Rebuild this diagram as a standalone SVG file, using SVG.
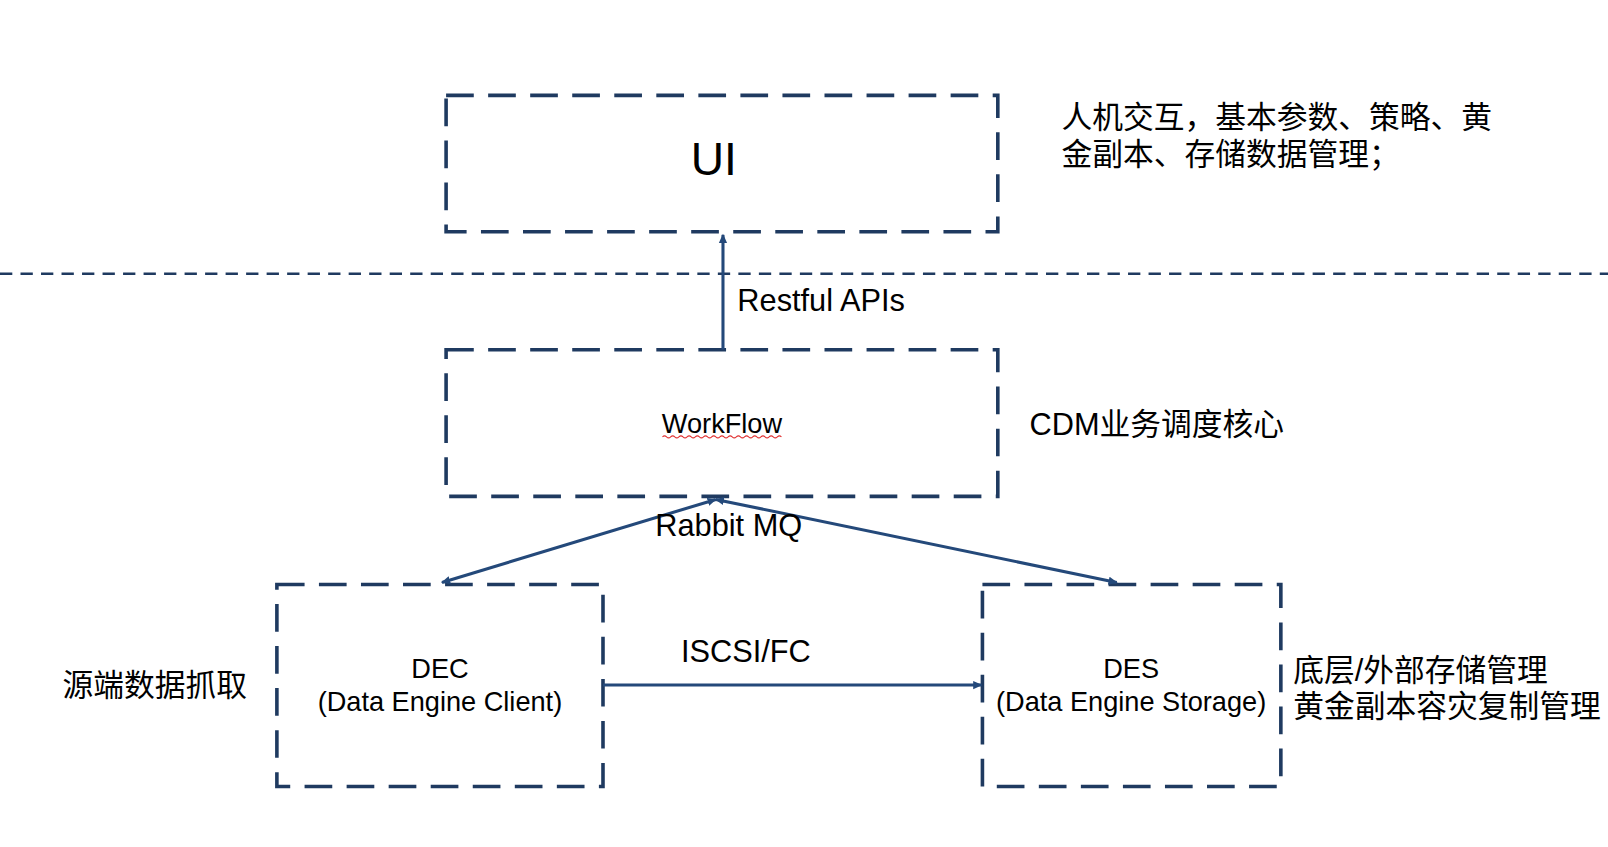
<svg xmlns="http://www.w3.org/2000/svg" width="1608" height="847" viewBox="0 0 1608 847">
<style>
.box{fill:none;stroke:#1f3a60;stroke-width:3.5;stroke-dasharray:27 14}
.ln{stroke:#24497a;stroke-width:3;fill:none}
text{font-family:"Liberation Sans","Noto Sans CJK SC",sans-serif;fill:#000}
</style>
<defs>
<marker id="ah" markerWidth="10" markerHeight="10" refX="8" refY="5" orient="auto-start-reverse" markerUnits="userSpaceOnUse"><path d="M0,1 L9,5 L0,9 Z" fill="#24497a"/></marker>
</defs>
<rect width="1608" height="847" fill="#fff"/>
<g transform="scale(1.0255)">
<line x1="0" y1="267" x2="1570" y2="267" stroke="#1f3a60" stroke-width="2.5" stroke-dasharray="12 8"/>
<g id="ui"><rect class="box" x="435" y="93" width="538" height="133"/><text x="696" y="171" font-size="45" text-anchor="middle">UI</text></g>
<g id="workflow"><rect class="box" x="435" y="341" width="538" height="143"/><text x="704" y="422" font-size="26.5" text-anchor="middle">WorkFlow</text>
<path d="M646,426 q2,-2 4,0 t4,0 t4,0 t4,0 t4,0 t4,0 t4,0 t4,0 t4,0 t4,0 t4,0 t4,0 t4,0 t4,0 t4,0 t4,0 t4,0 t4,0 t4,0 t4,0 t4,0 t4,0 t4,0 t4,0 t4,0 t4,0 t4,0 t4,0 t4,0" stroke="#e03030" stroke-width="1" fill="none"/></g>
<g id="dec"><rect class="box" x="270" y="570" width="318" height="197"/><text x="429" y="661" font-size="26.5" text-anchor="middle">DEC</text><text x="429" y="693" font-size="26.5" text-anchor="middle">(Data Engine Client)</text></g>
<g id="des"><rect class="box" x="958" y="570" width="291" height="197"/><text x="1103" y="661" font-size="26.5" text-anchor="middle">DES</text><text x="1103" y="693" font-size="26.5" text-anchor="middle">(Data Engine Storage)</text></g>
<g id="connectors">
<line class="ln" x1="705" y1="341" x2="705" y2="229" marker-end="url(#ah)"/>
<line class="ln" x1="698" y1="487" x2="431" y2="568" marker-start="url(#ah)" marker-end="url(#ah)"/>
<line class="ln" x1="698" y1="487" x2="1089" y2="568" marker-start="url(#ah)" marker-end="url(#ah)"/>
<line class="ln" x1="588" y1="668" x2="957" y2="668" marker-end="url(#ah)"/>
</g>
<g id="labels" font-size="30">
<text x="719" y="303">Restful APIs</text>
<text x="639" y="523">Rabbit MQ</text>
<text x="664" y="646">ISCSI/FC</text>
<text x="1035" y="125">人机交互，基本参数、策略、黄</text>
<text x="1035" y="161">金副本、存储数据管理；</text>
<text x="1004" y="424">CDM业务调度核心</text>
<text x="61" y="679">源端数据抓取</text>
<text x="1261" y="664">底层/外部存储管理</text>
<text x="1261" y="699">黄金副本容灾复制管理</text>
</g>
</g>
</svg>
